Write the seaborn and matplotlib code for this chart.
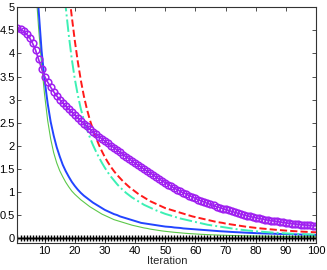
import numpy as np
import pandas as pd
import seaborn as sns
import matplotlib
matplotlib.use("Agg")
import matplotlib.pyplot as plt

# iteration index
iterations = list(range(1, 101))

# series values (one value per iteration)
green_vals = [40.0, 25.0, 16.0, 11.0, 8.5, 6.8, 5.5, 4.55, 3.75, 3.1,
              2.55, 2.15, 1.85, 1.63, 1.46, 1.33, 1.21, 1.11, 1.02, 0.95,
              0.89, 0.83, 0.78, 0.73, 0.68, 0.64, 0.60, 0.56, 0.52, 0.49,
              0.46, 0.43, 0.40, 0.38, 0.36, 0.34, 0.32, 0.30, 0.28, 0.265,
              0.25, 0.235, 0.22, 0.21, 0.195, 0.185, 0.175, 0.165, 0.155, 0.147,
              0.14, 0.133, 0.126, 0.12, 0.114, 0.108, 0.103, 0.098, 0.094, 0.09,
              0.086, 0.082, 0.079, 0.076, 0.073, 0.07, 0.068, 0.065, 0.063, 0.061,
              0.059, 0.057, 0.055, 0.053, 0.052, 0.05, 0.049, 0.047, 0.046, 0.045,
              0.044, 0.043, 0.042, 0.041, 0.04, 0.039, 0.038, 0.037, 0.036, 0.035,
              0.035, 0.034, 0.034, 0.033, 0.033, 0.032, 0.032, 0.031, 0.031, 0.03]

blue_vals = [45.0, 28.0, 18.0, 12.5, 9.5, 7.6, 6.3, 4.95, 4.05, 3.42,
             2.92, 2.52, 2.22, 1.97, 1.77, 1.59, 1.45, 1.33, 1.22, 1.13,
             1.05, 0.98, 0.92, 0.87, 0.82, 0.77, 0.73, 0.69, 0.65, 0.61,
             0.58, 0.55, 0.52, 0.50, 0.47, 0.45, 0.43, 0.41, 0.39, 0.37,
             0.35, 0.33, 0.32, 0.31, 0.30, 0.29, 0.28, 0.27, 0.26, 0.25,
             0.245, 0.24, 0.23, 0.225, 0.22, 0.21, 0.205, 0.20, 0.195, 0.19,
             0.185, 0.18, 0.175, 0.17, 0.165, 0.16, 0.155, 0.15, 0.146, 0.142,
             0.138, 0.134, 0.13, 0.127, 0.124, 0.12, 0.117, 0.114, 0.111, 0.108,
             0.106, 0.103, 0.101, 0.099, 0.097, 0.095, 0.093, 0.091, 0.089, 0.087,
             0.085, 0.083, 0.081, 0.079, 0.077, 0.076, 0.074, 0.073, 0.071, 0.07]

cyan_vals = [50.0, 38.0, 30.0, 24.0, 19.0, 15.5, 13.0, 11.0, 9.6, 8.5,
             7.7, 7.1, 6.6, 6.2, 5.9, 5.6, 5.0, 4.4, 3.88, 3.45,
             3.1, 2.8, 2.56, 2.36, 2.18, 2.02, 1.88, 1.75, 1.63, 1.52,
             1.42, 1.33, 1.25, 1.17, 1.1, 1.04, 0.98, 0.93, 0.88, 0.84,
             0.8, 0.76, 0.72, 0.69, 0.66, 0.63, 0.6, 0.575, 0.55, 0.525,
             0.505, 0.485, 0.465, 0.445, 0.425, 0.41, 0.395, 0.38, 0.365, 0.35,
             0.335, 0.32, 0.305, 0.29, 0.28, 0.27, 0.26, 0.25, 0.24, 0.23,
             0.22, 0.21, 0.2, 0.19, 0.182, 0.175, 0.168, 0.161, 0.155, 0.149,
             0.143, 0.138, 0.133, 0.128, 0.123, 0.118, 0.114, 0.11, 0.106, 0.102,
             0.099, 0.096, 0.093, 0.09, 0.087, 0.084, 0.081, 0.078, 0.075, 0.072]

red_vals = [60.0, 45.0, 35.0, 28.0, 22.0, 18.0, 15.0, 12.5, 10.8, 9.6,
            8.7, 8.0, 7.4, 6.9, 6.5, 6.2, 5.9, 5.35, 4.8, 4.28,
            3.82, 3.42, 3.08, 2.8, 2.56, 2.36, 2.18, 2.02, 1.88, 1.75,
            1.64, 1.54, 1.45, 1.37, 1.3, 1.23, 1.17, 1.11, 1.06, 1.01,
            0.96, 0.92, 0.88, 0.84, 0.80, 0.77, 0.74, 0.71, 0.68, 0.65,
            0.63, 0.61, 0.59, 0.57, 0.55, 0.53, 0.51, 0.49, 0.47, 0.455,
            0.44, 0.425, 0.41, 0.395, 0.38, 0.365, 0.35, 0.34, 0.33, 0.315,
            0.305, 0.295, 0.285, 0.275, 0.265, 0.255, 0.245, 0.238, 0.23, 0.222,
            0.215, 0.208, 0.202, 0.196, 0.19, 0.184, 0.178, 0.173, 0.168, 0.163,
            0.158, 0.154, 0.15, 0.146, 0.142, 0.138, 0.135, 0.132, 0.129, 0.126]

purple_vals = [4.55, 4.52, 4.48, 4.42, 4.34, 4.22, 4.07, 3.87, 3.67, 3.50,
               3.38, 3.27, 3.17, 3.08, 3.00, 2.93, 2.86, 2.79, 2.73, 2.67,
               2.60, 2.54, 2.48, 2.42, 2.36, 2.30, 2.25, 2.20, 2.15, 2.10,
               2.05, 2.00, 1.96, 1.91, 1.86, 1.81, 1.76, 1.72, 1.67, 1.62,
               1.58, 1.54, 1.49, 1.45, 1.41, 1.37, 1.32, 1.28, 1.24, 1.20,
               1.16, 1.12, 1.08, 1.05, 1.01, 0.98, 0.95, 0.92, 0.89, 0.86,
               0.83, 0.80, 0.78, 0.75, 0.73, 0.71, 0.68, 0.66, 0.64, 0.62,
               0.60, 0.58, 0.56, 0.54, 0.52, 0.50, 0.485, 0.47, 0.455, 0.44,
               0.427, 0.414, 0.401, 0.39, 0.38, 0.37, 0.36, 0.35, 0.34, 0.33,
               0.322, 0.314, 0.306, 0.299, 0.292, 0.286, 0.28, 0.275, 0.27, 0.265]

black_vals = [0.0] * 100

x_ticks = [10, 20, 30, 40, 50, 60, 70, 80, 90, 100]
y_ticks = [0, 0.5, 1, 1.5, 2, 2.5, 3, 3.5, 4, 4.5, 5]
y_tick_labels = ["0", "0.5", "1", "1.5", "2", "2.5", "3", "3.5", "4", "4.5", "5"]

sns.set_style("ticks")
plt.rcParams["font.family"] = ["Liberation Sans", "DejaVu Sans"]

fig = plt.figure(figsize=(3.27, 2.70), dpi=100)
ax = fig.add_axes([0.0535, 0.101, 0.913, 0.872])

sns.lineplot(x=iterations, y=green_vals, ax=ax, color="#5cc84a", linewidth=0.8)
sns.lineplot(x=iterations, y=blue_vals, ax=ax, color="#2244ff", linewidth=1.4)
sns.lineplot(x=iterations, y=cyan_vals, ax=ax, color="#3cf0b4", linewidth=1.4,
             linestyle="-.")
sns.lineplot(x=iterations, y=red_vals, ax=ax, color="#ff1a1a", linewidth=1.4,
             linestyle="--")
sns.lineplot(x=iterations, y=purple_vals, ax=ax, color="#a020f0", linewidth=1.2,
             marker="o", markersize=4.8, markerfacecolor="none",
             markeredgecolor="#a020f0", markeredgewidth=1.1)
sns.lineplot(x=iterations, y=black_vals, ax=ax, color="black", linewidth=1.0,
             marker="+", markersize=5, markeredgewidth=1.0,
             markeredgecolor="black")

ax.set_xlim(1, 100)
ax.set_ylim(-0.1, 5)
ax.set_xticks(x_ticks)
ax.set_yticks(y_ticks)
ax.set_yticklabels(y_tick_labels)
ax.tick_params(direction="in", length=3, width=0.6, labelsize=8, pad=2,
               top=True, right=True, colors="#333333", labelcolor="black")
for s in ax.spines.values():
    s.set_linewidth(0.8)
    s.set_color("#333333")
ax.set_xlabel("Iteration", fontsize=8, labelpad=0)
ax.set_ylabel("")

fig.savefig("out.png", dpi=100)
